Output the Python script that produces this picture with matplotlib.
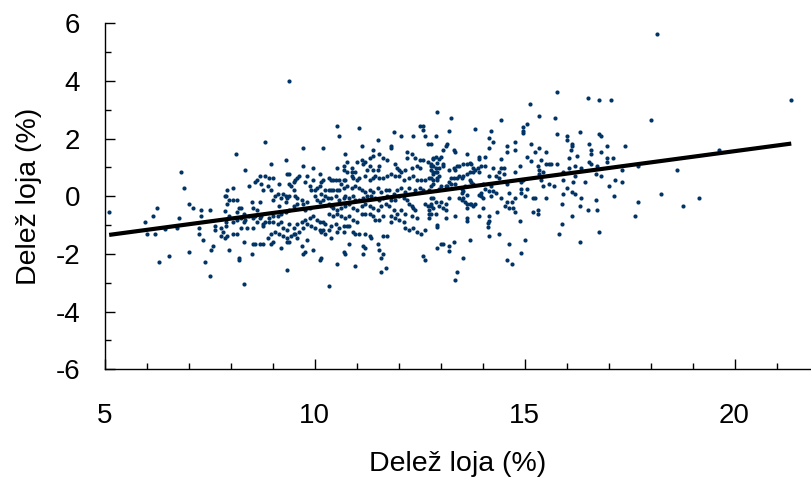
import matplotlib
matplotlib.use("Agg")
import matplotlib.pyplot as plt
import numpy as np
from matplotlib.ticker import MultipleLocator

plt.rcParams['font.family'] = ['Liberation Sans', 'DejaVu Sans']
plt.rcParams['axes.unicode_minus'] = False

# points, grouped by x band
pts_5_8 = [
    (5.11, -0.55), (5.97, -0.90), (6.02, -1.32), (6.16, -0.69), (6.21, -1.32), (6.26, -0.42),
    (6.30, -2.29), (6.54, -2.08), (6.78, -0.76), (6.83, 0.83), (6.88, 0.28), (6.43, -1.13),
    (6.73, -1.11), (7.02, -0.28), (7.02, -1.94), (7.11, -0.42), (7.26, -1.11), (7.30, -0.49),
    (7.30, -0.69), (7.26, -1.32), (7.35, -1.53), (7.40, -2.29), (7.50, -0.49), (7.50, -2.77),
    (7.54, -1.87), (7.59, -1.73), (7.64, -1.04), (7.64, -1.18), (7.78, -1.39), (7.86, 0.0),
    (7.86, -1.46), (7.86, -0.50),
]

pts_8_10 = [
    (9.40, 4.01),
    (8.83, 1.87), (8.12, 1.46), (9.73, 1.66), (10.21, 1.66), (8.35, 0.90), (8.97, 1.11),
    (9.31, 1.25), (9.35, 0.76), (9.40, 0.76), (8.45, 0.35), (7.92, 0.21), (8.07, 0.28),
    (7.88, 0.0), (7.97, -0.14), (8.07, -0.14), (8.16, -0.14), (7.92, -0.28), (8.21, -0.42),
    (8.26, -0.42), (8.16, -0.56), (8.31, -0.63), (8.50, -0.21), (8.54, -0.42), (8.64, -0.49),
    (8.69, -0.21), (8.64, 0.55), (8.69, 0.69), (8.83, 0.69), (8.92, 0.62), (9.02, 0.62),
    (8.59, 0.48), (8.73, 0.42), (8.78, 0.21), (8.88, 0.35), (8.97, 0.21), (9.16, 0.42),
    (9.07, 0.0), (9.02, -0.14), (9.12, 0.07), (9.21, -0.07), (9.26, 0.07), (9.31, 0.0),
    (9.35, -0.07), (9.40, 0.0), (9.16, -0.35), (9.31, -0.21), (9.40, 0.42), (9.45, 0.35),
    (9.50, 0.48), (9.54, 0.55), (9.59, 0.62), (9.64, 0.69), (9.50, 0.21), (9.54, 0.0),
    (9.59, -0.07), (9.69, -0.14), (9.73, 1.04), (9.78, 0.48), (9.83, 0.69), (9.88, 0.35),
    (9.92, 0.21), (9.97, 0.97), (9.97, 0.55), (10.02, 0.21), (10.07, 0.28), (10.12, 0.35),
    (10.16, 0.48), (10.21, 0.55), (10.12, 0.76), (10.16, 0.07), (10.02, 0.0), (10.07, -0.14),
    (10.12, -0.21), (10.21, -0.14), (9.83, -0.21), (9.88, -0.42), (9.73, -0.28), (9.78, -0.49),
    (9.59, -0.28), (9.50, -0.35), (9.40, -0.49), (9.31, -0.56), (9.21, -0.63), (9.12, -0.69),
    (9.02, -0.69), (8.92, -0.76), (8.83, -0.90), (8.73, -0.69), (8.69, -0.76), (8.59, -0.69),
    (8.54, -0.76), (8.45, -0.69), (8.35, -0.83), (8.26, -0.76), (8.16, -0.83), (8.07, -0.90),
    (7.97, -0.69), (7.88, -1.04), (7.78, -1.11), (7.83, -1.25), (7.92, -1.39), (8.07, -1.32),
    (8.16, -1.32), (7.88, -0.90), (8.31, -0.90), (8.26, -1.11), (8.40, -1.11), (8.54, -1.11),
    (8.64, -0.90), (8.78, -0.97), (8.78, -1.04), (8.92, -0.90), (9.02, -0.90), (9.12, -0.97),
    (9.21, -0.90), (9.26, -1.11), (9.35, -1.18), (9.40, -0.97), (9.50, -1.11), (9.59, -0.97),
    (9.69, -0.90), (9.78, -0.83), (9.88, -0.76), (9.97, -0.69), (10.07, -0.83), (10.12, -0.90),
    (10.21, -0.90), (9.83, -0.97), (9.92, -1.04), (10.02, -1.11), (10.12, -1.18), (10.21, -1.18),
    (10.16, -1.25), (9.73, -1.11), (9.64, -1.25), (9.54, -1.32), (9.45, -1.39), (9.35, -1.46),
    (9.26, -1.39), (9.16, -1.32), (9.07, -1.25), (8.97, -1.32), (8.88, -1.46), (8.78, -1.67),
    (8.69, -1.67), (8.59, -1.67), (8.54, -1.67), (8.97, -1.67), (9.02, -1.60), (9.21, -1.80),
    (9.35, -1.60), (9.40, -1.60), (9.50, -1.32), (9.59, -1.46), (9.69, -1.74), (9.73, -2.01),
    (9.78, -1.94), (9.83, -1.53), (9.97, -1.87), (10.12, -2.22), (10.16, -2.15), (8.31, -1.60),
    (7.97, -1.87), (8.21, -2.15), (8.21, -2.22), (8.50, -2.01), (9.35, -2.57), (8.31, -3.05),
]

pts_10_13 = [
    (10.54, 2.43), (10.59, 2.08), (11.07, 2.36), (12.50, 2.43), (12.59, 2.43), (12.59, 2.29),
    (12.64, 2.08), (11.88, 2.22), (12.07, 2.08), (12.35, 2.08), (11.50, 1.94), (11.12, 1.73),
    (12.69, 1.80), (11.83, 1.73), (11.83, 1.66), (10.73, 1.46), (11.40, 1.59), (11.02, 1.18),
    (11.12, 1.25), (11.21, 1.18), (11.31, 1.32), (11.40, 1.39), (11.54, 1.46), (11.64, 1.32),
    (11.73, 1.25), (12.21, 1.52), (12.21, 1.32), (12.31, 1.46), (12.40, 1.32), (12.50, 1.25),
    (12.59, 1.25), (12.69, 1.18), (12.83, 1.32), (10.54, 0.97), (10.69, 1.04), (10.78, 1.18),
    (10.69, 0.90), (10.78, 0.83), (10.88, 0.83), (10.88, 0.97), (10.97, 0.83), (11.16, 1.11),
    (11.31, 1.04), (11.26, 0.90), (11.40, 0.90), (11.50, 0.90), (11.54, 1.04), (11.92, 1.11),
    (11.97, 0.97), (12.02, 0.90), (12.07, 0.83), (12.16, 0.90), (12.31, 0.97), (12.45, 1.04),
    (12.50, 0.97), (12.78, 1.04), (12.83, 0.83),
    (10.35, 0.62), (10.40, 0.55), (10.45, 0.55), (10.50, 0.55), (10.59, 0.55), (10.64, 0.42),
    (10.69, 0.55), (10.73, 0.55), (10.88, 0.69), (10.92, 0.62), (11.02, 0.55), (11.07, 0.62),
    (11.21, 0.69), (11.31, 0.55), (11.40, 0.62), (11.45, 0.69), (11.54, 0.62), (11.64, 0.62),
    (11.73, 0.69), (11.83, 0.76), (11.92, 0.69), (12.02, 0.69), (12.12, 0.55), (12.26, 0.62),
    (12.35, 0.69), (12.45, 0.55), (12.54, 0.55), (12.64, 0.55), (12.73, 0.62), (12.83, 0.55),
    (10.26, 0.21), (10.35, 0.21), (10.40, 0.21), (10.45, 0.21), (10.54, 0.21), (10.59, 0.21),
    (10.69, 0.28), (10.78, 0.35), (10.88, 0.28), (10.97, 0.35), (11.07, 0.28), (11.12, 0.21),
    (11.21, 0.14), (11.31, 0.21), (11.40, 0.14), (11.50, 0.28), (11.59, 0.14), (11.69, 0.21),
    (11.78, 0.21), (11.88, 0.07), (11.97, 0.21), (12.07, 0.28), (12.16, 0.14), (12.26, 0.28),
    (12.40, 0.21), (12.50, 0.28), (12.59, 0.21), (12.73, 0.21), (12.78, 0.35),
    (10.26, 0.0), (10.31, -0.07), (10.40, -0.07), (10.50, 0.0), (10.59, -0.14), (10.69, -0.07),
    (10.73, 0.0), (10.83, -0.07), (10.92, 0.0), (10.97, -0.14), (11.07, -0.14), (11.16, -0.07),
    (11.26, 0.0), (11.35, 0.0), (11.45, -0.07), (11.54, -0.14), (11.64, -0.07), (11.73, 0.0),
    (11.83, -0.14), (11.92, -0.14), (12.02, 0.0), (12.12, -0.07), (12.21, -0.14), (12.26, -0.28),
    (12.31, -0.35), (12.35, -0.42), (12.40, -0.49), (12.64, -0.28), (12.69, -0.35), (12.73, -0.49),
    (12.78, -0.28),
    (10.35, -0.28), (10.40, -0.35), (10.45, -0.42), (10.54, -0.49), (10.64, -0.42), (10.73, -0.35),
    (10.83, -0.28), (10.92, -0.42), (11.02, -0.49), (11.12, -0.35), (11.21, -0.28), (11.31, -0.35),
    (11.40, -0.42), (11.50, -0.49), (11.59, -0.35), (11.69, -0.28), (11.78, -0.35), (11.88, -0.49),
    (11.97, -0.63), (12.07, -0.49), (12.16, -0.63),
    (10.35, -0.63), (10.45, -0.69), (10.54, -0.63), (10.64, -0.69), (10.73, -0.76), (10.83, -0.69),
    (10.92, -0.83), (11.02, -0.90), (11.12, -0.63), (11.21, -0.63), (11.31, -0.63), (11.40, -0.69),
    (11.45, -0.83), (11.54, -0.83), (11.64, -0.69), (11.83, -0.69), (11.92, -0.76), (11.83, -0.90),
    (12.02, -0.83), (12.12, -0.90), (12.31, -0.69), (12.45, -0.76), (12.73, -0.63), (12.73, -0.76),
    (10.26, -0.97), (10.40, -1.04), (10.50, -0.97), (10.59, -1.11), (10.69, -1.04), (10.83, -1.04),
    (10.35, -1.18), (10.26, -1.32), (10.40, -1.46), (10.54, -1.25), (10.69, -1.25), (10.78, -1.04),
    (10.92, -1.25), (10.97, -1.32), (11.07, -1.32), (11.21, -1.32), (11.31, -1.39), (11.64, -1.39),
    (11.73, -1.39), (11.35, -1.46), (12.26, -1.18), (12.16, -1.11), (12.35, -1.11), (12.45, -1.25),
    (12.54, -1.32), (12.64, -1.18),
    (10.83, -1.67), (11.16, -1.74), (11.21, -1.80), (11.50, -1.67), (11.54, -1.87), (10.69, -1.94),
    (10.73, -2.01), (11.16, -2.01), (11.64, -2.01), (11.59, -2.15), (12.59, -2.08), (12.64, -2.22),
    (10.54, -2.36), (10.97, -2.43), (11.59, -2.64), (11.69, -2.50), (10.35, -3.12),
]

pts_13_15 = [
    (15.14, 3.19), (12.92, 2.91), (13.26, 2.70), (14.45, 2.63), (13.83, 2.35), (14.21, 2.28),
    (13.21, 2.28), (14.97, 2.42), (15.07, 2.49), (14.97, 2.28), (14.97, 2.21), (12.88, 2.08),
    (14.16, 2.01), (12.78, 1.80), (14.26, 1.87), (13.16, 1.80), (13.12, 1.73), (14.16, 1.66),
    (15.16, 1.80), (14.78, 1.87), (14.59, 1.73), (13.07, 1.59), (13.31, 1.59), (13.35, 1.52),
    (14.78, 1.59), (13.92, 1.38), (14.07, 1.38), (13.64, 1.45), (12.88, 1.38), (12.83, 1.31),
    (12.97, 1.31), (13.02, 1.38), (14.59, 1.52), (14.45, 1.31), (15.07, 1.38), (15.16, 1.24),
    (12.92, 1.17), (13.07, 1.11), (13.07, 1.04), (13.40, 1.04), (13.45, 1.04), (13.54, 1.11),
    (13.64, 1.11), (13.73, 1.11), (13.92, 1.31), (13.69, 1.17), (12.78, 1.11), (12.83, 1.04),
    (12.88, 0.97), (12.97, 0.97), (13.78, 0.97), (13.88, 0.97), (13.83, 0.90), (13.78, 0.83),
    (13.97, 1.04), (14.07, 1.04), (14.26, 0.97), (14.45, 0.97), (14.50, 0.97), (14.88, 1.04),
    (12.78, 0.90), (12.88, 0.83), (12.92, 0.83), (13.21, 0.90), (13.31, 0.97), (13.35, 0.90),
    (13.45, 0.69), (13.50, 0.62), (13.54, 0.69), (13.40, 0.62), (13.31, 0.62), (13.26, 0.62),
    (12.97, 0.69), (12.92, 0.62), (12.92, 0.55), (12.83, 0.76), (12.78, 0.62), (13.12, 0.34),
    (13.16, 0.34), (13.02, 0.34), (12.97, 0.27), (13.21, 0.48), (13.26, 0.41), (13.35, 0.41),
    (13.64, 0.76), (13.69, 0.83), (13.92, 0.83), (14.16, 0.69), (14.31, 0.69), (14.40, 0.62),
    (14.40, 0.83), (14.50, 0.76), (14.78, 0.83), (14.97, 0.55), (14.92, 0.48), (15.07, 0.27),
    (14.59, 0.41), (14.92, 0.27), (14.92, 0.13), (14.64, 0.13), (12.83, 0.41), (13.50, 0.27),
    (13.50, 0.13), (13.59, 0.34), (13.69, 0.55), (13.73, 0.48), (13.78, 0.41), (13.54, 0.20),
    (13.64, 0.06), (13.54, -0.07), (13.59, -0.21), (13.64, -0.28), (13.69, -0.28), (13.73, -0.28),
    (13.78, -0.35), (13.83, -0.28), (13.64, -0.42), (13.92, 0.06), (13.97, 0.0), (14.02, -0.07),
    (13.97, 0.13), (14.02, 0.41), (14.07, 0.27), (14.16, 0.20), (14.21, 0.34), (14.26, 0.20),
    (14.21, 0.0), (14.31, 0.13), (14.45, -0.07), (14.59, -0.21), (14.69, -0.21), (14.78, -0.07),
    (14.64, -0.42), (14.73, -0.42), (14.78, -0.56), (14.54, -0.35), (14.35, -0.56), (14.02, -0.42),
    (14.16, -0.70), (14.16, -0.84), (14.12, -0.91), (14.12, -1.05), (14.16, -1.39), (13.64, -0.77),
    (13.64, -0.84), (13.35, -0.70), (13.12, -0.49), (12.97, -0.35), (13.02, -0.21), (13.12, -0.28),
    (13.07, -0.42), (12.78, -0.07), (12.83, -0.07), (12.88, -0.21), (12.78, -0.35), (12.83, -0.42),
    (12.92, -0.98), (12.92, -1.05), (12.78, -0.63), (12.88, -0.63), (13.12, -0.77), (15.02, 0.0),
    (15.21, -0.07), (15.21, -0.56), (14.88, -0.84), (14.40, -1.32), (15.02, -1.53), (14.64, -1.67),
    (13.69, -1.53), (13.31, -1.60), (13.02, -1.67), (13.07, -1.67), (13.21, -1.74), (13.21, -1.88),
    (12.92, -1.81), (13.54, -2.15), (14.59, -2.22), (14.69, -2.36), (13.40, -2.64), (13.35, -2.89),
    (14.92, -1.95), (13.92, -0.70), (13.45, -0.07), (13.50, -0.14), (13.21, -0.07),
]

pts_15_18 = [
    (15.78, 3.61), (16.50, 3.40), (16.78, 3.33), (17.07, 3.33), (15.35, 2.77), (15.73, 2.70),
    (15.78, 2.15), (16.02, 2.08), (16.02, 1.94), (16.31, 2.22), (16.78, 2.15), (16.83, 2.08),
    (16.12, 1.80), (16.12, 1.73), (16.54, 1.80), (16.97, 1.73), (17.40, 1.73), (16.10, 1.60),
    (16.59, 1.60), (16.83, 1.53), (15.26, 1.53), (15.50, 1.53), (15.35, 1.66), (16.26, 1.39),
    (16.07, 1.32), (16.59, 1.46), (16.97, 1.32), (17.11, 1.32), (15.40, 1.25), (16.54, 1.18),
    (16.59, 1.11), (16.97, 1.18), (15.50, 1.11), (15.59, 1.11), (15.64, 1.11), (15.78, 1.11),
    (15.31, 1.04), (15.35, 0.90), (16.21, 1.04), (16.07, 0.97), (16.35, 0.97), (16.73, 1.04),
    (15.45, 0.83), (15.35, 0.76), (15.92, 0.83), (16.69, 0.76), (16.83, 0.69), (17.31, 0.90),
    (17.69, 1.04), (16.21, 0.69), (15.40, 0.55), (15.92, 0.55), (16.16, 0.48), (16.45, 0.48),
    (17.16, 0.55), (17.31, 0.48), (15.59, 0.42), (15.69, 0.35), (15.45, 0.35), (16.02, 0.28),
    (17.02, 0.35), (16.12, 0.14), (15.92, 0.07), (16.21, 0.07), (17.12, 0.0), (15.26, -0.07),
    (15.50, -0.07), (16.35, -0.07), (16.69, -0.14), (15.88, -0.28), (16.31, -0.35), (17.69, -0.21),
    (15.31, -0.49), (15.31, -0.63), (16.50, -0.49), (16.73, -0.49), (16.12, -0.69), (17.64, -0.69),
    (15.88, -0.97), (15.83, -1.32), (16.78, -1.25), (16.31, -1.60),
]

pts_18_22 = [
    (18.16, 5.62), (21.35, 3.33), (18.02, 2.64), (19.64, 1.60), (18.64, 0.90), (18.26, 0.07),
    (18.78, -0.35), (19.16, -0.07),
]

# fitted line
fit_slope = 0.195
fit_intercept = -2.335

x_ticks_major = [5, 10, 15, 20]
y_ticks_major = [-6, -4, -2, 0, 2, 4, 6]
axis_label = "Delež loja (%)"

all_pts = np.array(pts_5_8 + pts_8_10 + pts_10_13 + pts_13_15 + pts_15_18 + pts_18_22)
xs, ys = all_pts[:, 0], all_pts[:, 1]

fig = plt.figure(figsize=(8.11, 4.80), dpi=100)
ax = fig.add_axes([0.1289, 0.2306, 0.8711, 0.7209])

ax.scatter(xs, ys, s=9, color="#003366", linewidths=0, zorder=2)

line_x = np.array([xs.min(), xs.max()])
ax.plot(line_x, fit_intercept + fit_slope * line_x, color="black", lw=3, zorder=3,
        solid_capstyle="butt")

ax.set_xlim(5, 21.82)
ax.set_ylim(-6, 6)
ax.set_xticks(x_ticks_major)
ax.set_yticks(y_ticks_major)
ax.xaxis.set_minor_locator(MultipleLocator(1))
ax.yaxis.set_minor_locator(MultipleLocator(1))

for side in ("top", "right"):
    ax.spines[side].set_visible(False)
for side in ("left", "bottom"):
    ax.spines[side].set_linewidth(1.0)
    ax.spines[side].set_color("black")

ax.tick_params(which="major", direction="in", length=7.2, width=1.0, labelsize=20)
ax.tick_params(which="minor", direction="in", length=4.3, width=1.0)
ax.tick_params(axis="x", which="major", pad=24.5)
ax.tick_params(axis="y", which="major", pad=17.6)

ax.set_xlabel(axis_label, fontsize=20.5)
ax.set_ylabel(axis_label, fontsize=20.5)
ax.xaxis.set_label_coords(0.5, -0.236)
ax.yaxis.set_label_coords(-0.088, 0.5)

fig.savefig("out.png", dpi=100)
